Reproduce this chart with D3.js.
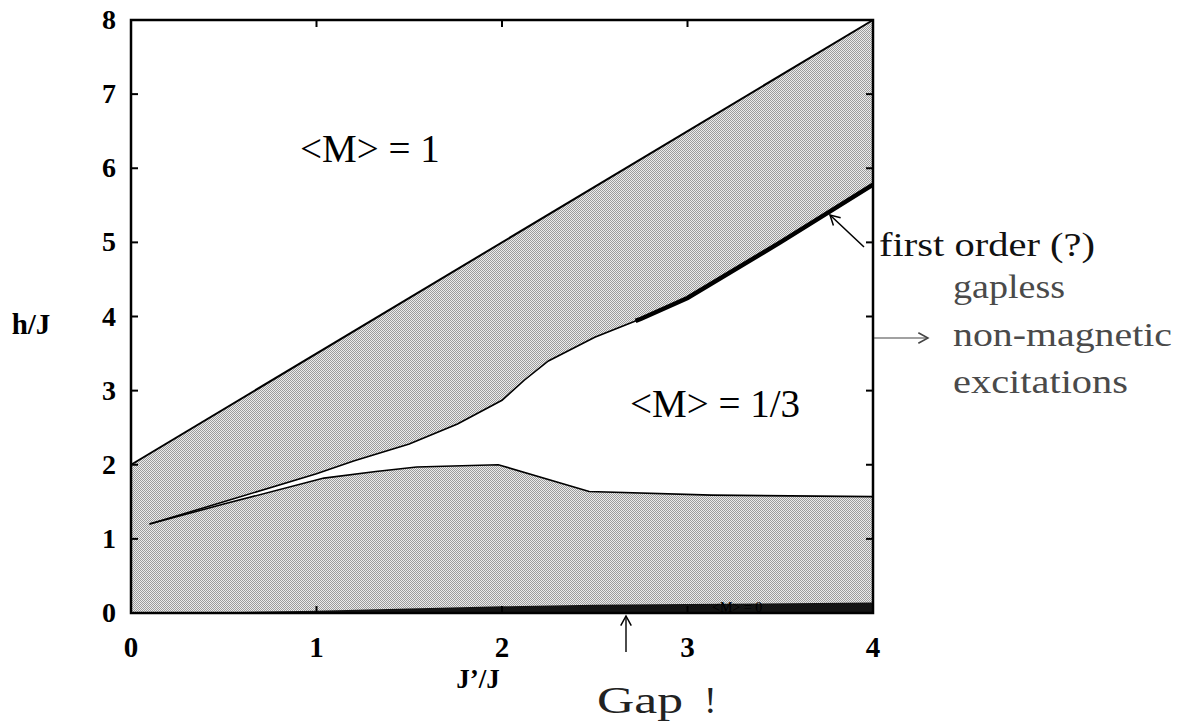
<!DOCTYPE html>
<html>
<head>
<meta charset="utf-8">
<script src="https://cdn.jsdelivr.net/npm/d3@7"></script>
<style>
  html, body { margin: 0; padding: 0; background: #fff; }
  svg { display: block; }
  text { font-family: "Liberation Serif", "Times New Roman", serif; }
</style>
</head>
<body>
<svg id="chart" width="1193" height="723"></svg>
<script>
// Phase boundaries of the magnetisation plateaus, h/J versus J'/J
const saturationX = [0, 4];
const saturationH = [2, 8];

const plateauTopX = [0.1, 0.5, 1.0, 1.2, 1.5, 1.76, 2.0, 2.12, 2.25, 2.5, 2.75, 3.0, 3.5, 4.0];
const plateauTopH = [1.2, 1.5, 1.88, 2.05, 2.28, 2.55, 2.87, 3.14, 3.4, 3.72, 3.97, 4.25, 5.0, 5.78];

const plateauBottomX = [0.1, 0.5, 1.04, 1.32, 1.54, 1.98, 2.47, 3.13, 4.0];
const plateauBottomH = [1.2, 1.47, 1.82, 1.91, 1.97, 2.0, 1.64, 1.59, 1.57];

// Spin gap (<M> = 0) band along the axis
const gapX = [0, 0.5, 1, 2, 2.5, 3, 4];
const gapH = [0, 0.01, 0.03, 0.09, 0.11, 0.12, 0.14];

// First-order part of the upper plateau edge starts here
const firstOrderFrom = 2.72;

const xTicks = [0, 1, 2, 3, 4];
const yTicks = [0, 1, 2, 3, 4, 5, 6, 7, 8];

const svg = d3.select("#chart");
const x = d3.scaleLinear().domain([0, 4]).range([131, 873]);
const y = d3.scaleLinear().domain([0, 8]).range([613, 20]);

const zip = (xs, hs) => xs.map((v, i) => [v, hs[i]]);
const line = d3.line().x(d => x(d[0])).y(d => y(d[1]));

// half-tone grey used for the gapless regions
const defs = svg.append("defs");
const pat = defs.append("pattern")
  .attr("id", "halftone").attr("patternUnits", "userSpaceOnUse")
  .attr("width", 2).attr("height", 2);
pat.append("rect").attr("width", 2).attr("height", 2).attr("fill", "#ececec");
pat.append("rect").attr("x", 0).attr("y", 0).attr("width", 1).attr("height", 1).attr("fill", "#9c9c9c");
pat.append("rect").attr("x", 1).attr("y", 1).attr("width", 1).attr("height", 1).attr("fill", "#9c9c9c");

// grey area: everything below the saturation line
const greyArea = [[0, 0], ...zip(saturationX, saturationH), [4, 0]];
svg.append("path")
  .attr("d", line(greyArea) + "Z")
  .attr("fill", "url(#halftone)");

// <M> = 1/3 plateau (white) between the two edges
const upperEdge = zip(plateauTopX, plateauTopH);
const lowerEdge = zip(plateauBottomX, plateauBottomH);
svg.append("path")
  .attr("d", line([...lowerEdge, ...upperEdge.slice().reverse()]) + "Z")
  .attr("fill", "#fff");

// spin-gap band
const gapArea = d3.area().x(d => x(d[0])).y0(y(0)).y1(d => y(d[1]));
svg.append("path")
  .attr("d", gapArea(zip(gapX, gapH)))
  .attr("fill", "#141414");

// boundary lines
svg.append("path").attr("d", line(zip(saturationX, saturationH)))
  .attr("fill", "none").attr("stroke", "#000").attr("stroke-width", 2);
svg.append("path").attr("d", line(upperEdge))
  .attr("fill", "none").attr("stroke", "#000").attr("stroke-width", 1.6);
svg.append("path").attr("d", line(lowerEdge))
  .attr("fill", "none").attr("stroke", "#000").attr("stroke-width", 1.6);

// thick first-order segment
const upperInterp = d3.scaleLinear().domain(plateauTopX).range(plateauTopH);
const thick = [[firstOrderFrom, upperInterp(firstOrderFrom)], ...upperEdge.filter(d => d[0] > firstOrderFrom)];
svg.append("path").attr("d", line(thick))
  .attr("fill", "none").attr("stroke", "#000").attr("stroke-width", 4.5);

// frame and ticks
const frame = svg.append("g");
frame.append("rect")
  .attr("x", x(0)).attr("y", y(8))
  .attr("width", x(4) - x(0)).attr("height", y(0) - y(8))
  .attr("fill", "none").attr("stroke", "#000").attr("stroke-width", 2.5);

const tickLen = 7;
frame.selectAll(".ytl").data(yTicks.slice(1, -1)).join("line")
  .attr("x1", x(0)).attr("x2", x(0) + tickLen)
  .attr("y1", d => y(d)).attr("y2", d => y(d))
  .attr("stroke", "#000").attr("stroke-width", 2);
frame.selectAll(".ytr").data(yTicks.slice(1, -1)).join("line")
  .attr("x1", x(4)).attr("x2", x(4) - tickLen)
  .attr("y1", d => y(d)).attr("y2", d => y(d))
  .attr("stroke", "#000").attr("stroke-width", 2);
frame.selectAll(".xtb").data(xTicks.slice(1, -1)).join("line")
  .attr("x1", d => x(d)).attr("x2", d => x(d))
  .attr("y1", y(0)).attr("y2", y(0) - tickLen)
  .attr("stroke", "#000").attr("stroke-width", 2);
frame.selectAll(".xtt").data(xTicks.slice(1, -1)).join("line")
  .attr("x1", d => x(d)).attr("x2", d => x(d))
  .attr("y1", y(8)).attr("y2", y(8) + tickLen)
  .attr("stroke", "#000").attr("stroke-width", 2);

// tick labels
svg.selectAll(".ylab").data(yTicks).join("text")
  .attr("x", 116).attr("y", d => y(d) + 9)
  .attr("text-anchor", "end")
  .attr("font-size", 28).attr("font-weight", "bold")
  .text(d => d);
svg.selectAll(".xlab").data(xTicks).join("text")
  .attr("x", d => x(d)).attr("y", 657)
  .attr("text-anchor", "middle")
  .attr("font-size", 29).attr("font-weight", "bold")
  .text(d => d);

// axis titles
svg.append("text").attr("x", 31).attr("y", 334).attr("text-anchor", "middle")
  .attr("font-size", 29).attr("font-weight", "bold").text("h/J");
svg.append("text").attr("x", 478).attr("y", 688).attr("text-anchor", "middle")
  .attr("font-size", 27).attr("font-weight", "bold").text("J\u2019/J");

// region labels
svg.append("text").attr("x", 300).attr("y", 162)
  .attr("font-size", 39).text("<M> = 1");
svg.append("text").attr("x", 630).attr("y", 417)
  .attr("font-size", 39).text("<M> = 1/3");
svg.append("text").attr("x", 712).attr("y", 612)
  .attr("font-size", 14).attr("fill", "#000").text("<M> = 0");

// annotations
const arrowHead = (g, tipX, tipY, angle, color) => {
  const a = angle * Math.PI / 180, s = 11, w = 0.5;
  const p1 = [tipX - s * Math.cos(a - w), tipY - s * Math.sin(a - w)];
  const p2 = [tipX - s * Math.cos(a + w), tipY - s * Math.sin(a + w)];
  g.append("path")
    .attr("d", `M${p1[0]},${p1[1]} L${tipX},${tipY} L${p2[0]},${p2[1]}`)
    .attr("fill", "none").attr("stroke", color).attr("stroke-width", 1.5);
};
const ann = svg.append("g");
const wideText = (px, py, size, width, color, str) =>
  ann.append("text").attr("x", px).attr("y", py)
    .attr("font-size", size).attr("fill", color)
    .attr("textLength", width).attr("lengthAdjust", "spacingAndGlyphs")
    .text(str);

// first-order arrow
ann.append("line").attr("x1", 864).attr("y1", 247).attr("x2", 830).attr("y2", 215)
  .attr("stroke", "#000").attr("stroke-width", 1.5);
arrowHead(ann, 830, 215, Math.atan2(215 - 247, 830 - 864) * 180 / Math.PI, "#000");
wideText(879, 256, 34, 216, "#111", "first order (?)");

// gapless excitations arrow
ann.append("line").attr("x1", 874).attr("y1", 338).attr("x2", 928).attr("y2", 338)
  .attr("stroke", "#444").attr("stroke-width", 1.2);
arrowHead(ann, 928, 338, 0, "#444");
wideText(953, 298, 33, 112, "#4a4a4a", "gapless");
wideText(953, 346, 33, 219, "#4a4a4a", "non-magnetic");
wideText(953, 393, 33, 175, "#4a4a4a", "excitations");

// gap arrow
ann.append("line").attr("x1", 626).attr("y1", 652).attr("x2", 626).attr("y2", 616)
  .attr("stroke", "#000").attr("stroke-width", 1.4);
arrowHead(ann, 626, 616, -90, "#000");
wideText(597, 713, 38, 86, "#222", "Gap");
ann.append("text").attr("x", 704).attr("y", 713)
  .attr("font-size", 38).attr("fill", "#222").text("!");
</script>
</body>
</html>
